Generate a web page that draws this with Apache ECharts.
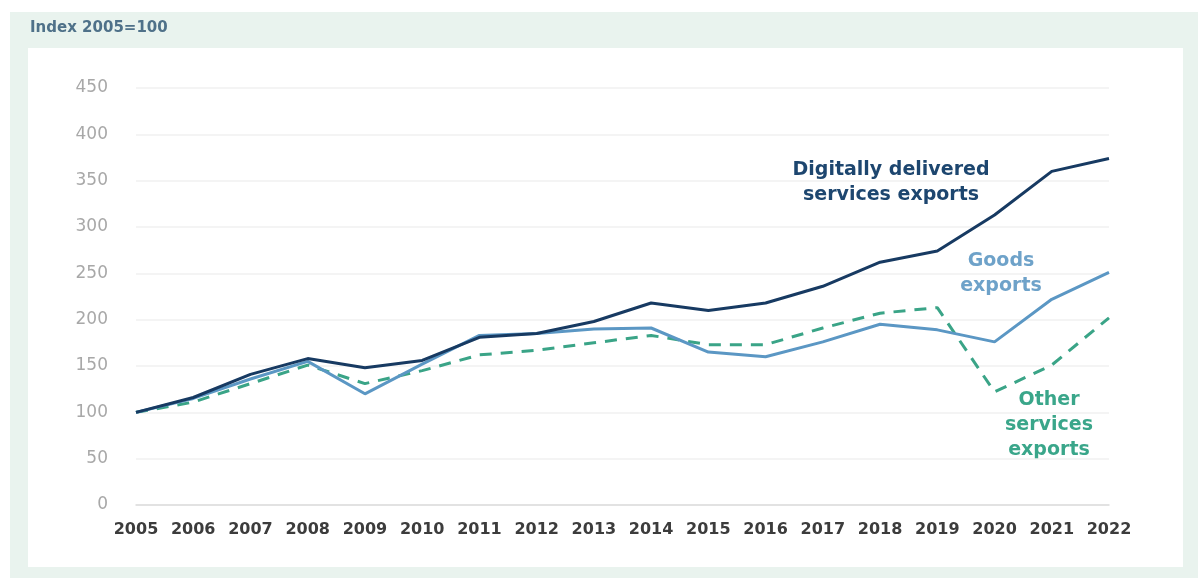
<!DOCTYPE html>
<html>
<head>
<meta charset="utf-8">
<script src="https://cdn.jsdelivr.net/npm/echarts@6/dist/echarts.min.js"></script>
<style>
  html, body { margin: 0; padding: 0; background: #ffffff; }
  #frame { position: absolute; left: 10px; top: 12px; width: 1188px; height: 566px; background: #e9f3ee; }
  #panel { position: absolute; left: 28px; top: 48px; width: 1155px; height: 519px; background: #ffffff; }
  #chart { position: absolute; left: 0; top: 0; width: 1198px; height: 578px; }
</style>
</head>
<body>
<div id="frame"></div>
<div id="panel"></div>
<div id="chart"></div>
<script>
// Export indices, 2005 = 100
const years = ['2005','2006','2007','2008','2009','2010','2011','2012','2013','2014','2015','2016','2017','2018','2019','2020','2021','2022'];
const digitalServices = [100,116,141,158,148,156,181,185,198,218,210,218,236,262,274,313,360,374];
const goods = [100,115,136,155,120,152,183,185,190,191,165,160,176,195,189,176,222,251];
const otherServices = [100,111,131,151,131,145,162,167,175,183,173,173,191,207,213,122,151,202];
const yTicks = [0, 50, 100, 150, 200, 250, 300, 350, 400, 450];

const FONT = '"DejaVu Sans", "Liberation Sans", Arial, sans-serif';
const C_DIGITAL = '#173a62';
const C_GOODS = '#5b97c4';
const C_OTHER = '#3aa487';

const chart = echarts.init(document.getElementById('chart'), null, { renderer: 'canvas' });

// series labels placed beside their lines
function seriesLabel(text, x, y, color) {
  return {
    type: 'text', x: x, y: y, silent: true,
    style: { text: text, fill: color, font: 'bold 19px ' + FONT, align: 'center', verticalAlign: 'top', lineHeight: 25 }
  };
}

chart.setOption({
  backgroundColor: 'transparent',
  animation: false,
  grid: { left: 136, right: 89, top: 88, bottom: 73, containLabel: false },
  xAxis: {
    type: 'category',
    data: years,
    boundaryGap: false,
    axisLine: { show: true, lineStyle: { color: '#dcdcdc', width: 1.5 } },
    axisTick: { show: false },
    axisLabel: { interval: 0, hideOverlap: false, color: '#3c3c3c', fontFamily: FONT, fontSize: 16, fontWeight: 'bold', margin: 17 }
  },
  yAxis: {
    type: 'value',
    min: yTicks[0],
    max: yTicks[yTicks.length - 1],
    interval: yTicks[1] - yTicks[0],
    axisLine: { show: false },
    axisTick: { show: false },
    splitLine: { lineStyle: { color: '#f1f1f1', width: 1.5 } },
    axisLabel: { color: '#a8a8a8', fontFamily: FONT, fontSize: 17, margin: 28 }
  },
  graphic: [
    { type: 'text', x: 30, y: 21, silent: true, style: { text: 'Index 2005=100', fill: '#4f7189', font: 'bold 15px ' + FONT, verticalAlign: 'top' } },
    seriesLabel('Digitally delivered\nservices exports', 891, 158, '#1d466f'),
    seriesLabel('Goods\nexports', 1001, 249, '#6ea2c9'),
    seriesLabel('Other\nservices\nexports', 1049, 388, '#3aa68a')
  ],
  series: [
    {
      name: 'Other services exports',
      type: 'line',
      data: otherServices,
      symbol: 'none',
      z: 2,
      lineStyle: { color: C_OTHER, width: 3, type: [12, 9] }
    },
    {
      name: 'Goods exports',
      type: 'line',
      data: goods,
      symbol: 'none',
      z: 3,
      lineStyle: { color: C_GOODS, width: 3 }
    },
    {
      name: 'Digitally delivered services exports',
      type: 'line',
      data: digitalServices,
      symbol: 'none',
      z: 4,
      lineStyle: { color: C_DIGITAL, width: 3 }
    }
  ]
});
</script>
</body>
</html>
